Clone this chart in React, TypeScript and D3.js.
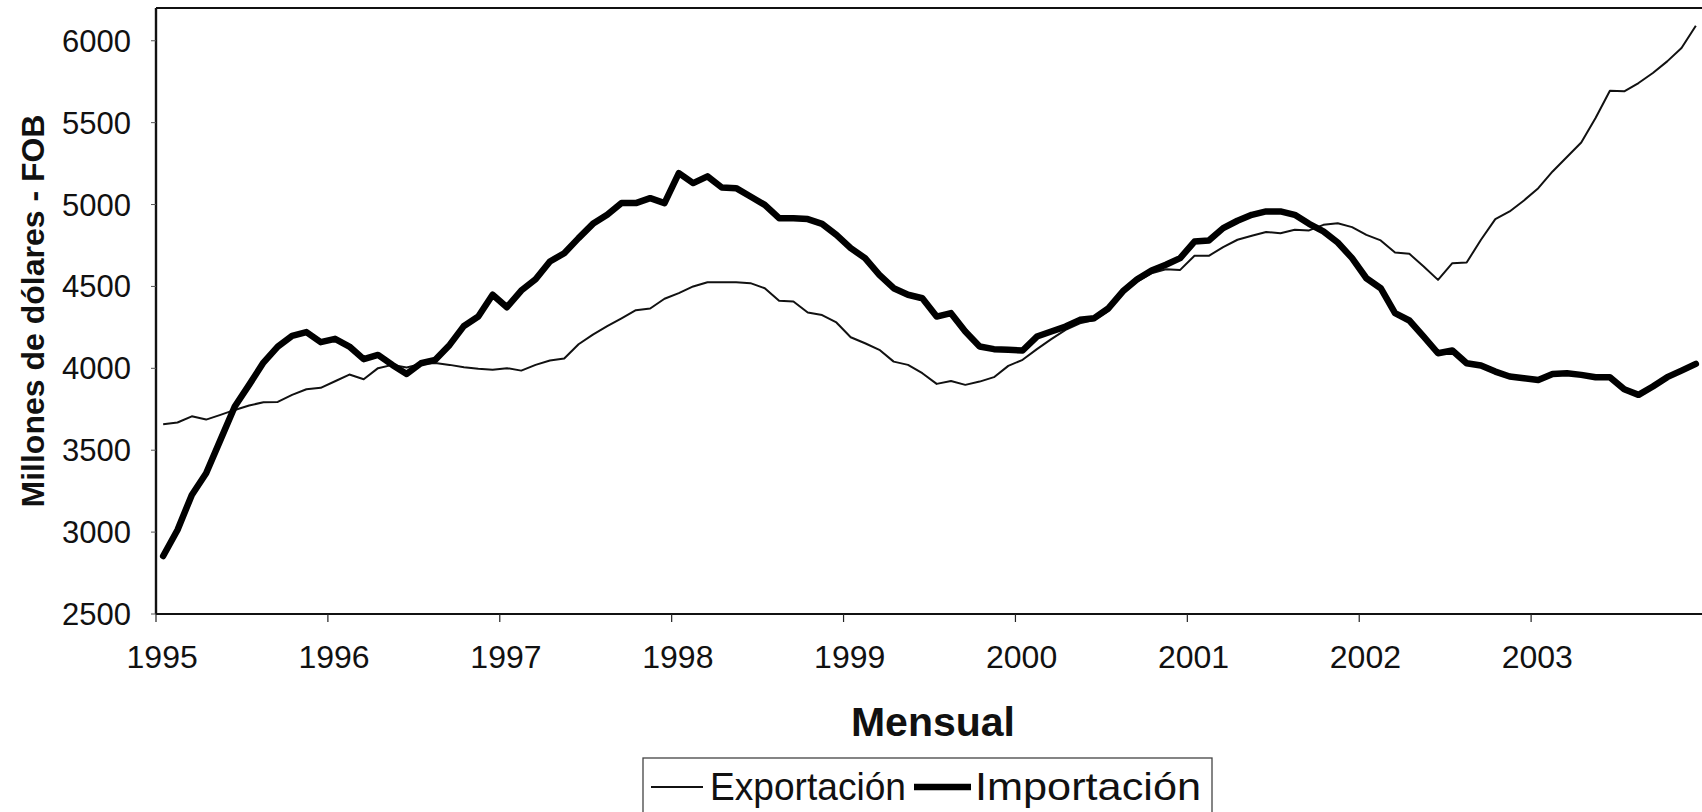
import React from 'react';
import * as d3 from 'd3';

const yearLabels = ['1995', '1996', '1997', '1998', '1999', '2000', '2001', '2002', '2003'];
const yTicks = [2500, 3000, 3500, 4000, 4500, 5000, 5500, 6000];

const exportacion = [
  3659, 3669, 3707, 3687, 3716, 3746, 3773, 3793, 3795, 3838, 3872, 3881,
  3921, 3962, 3933, 4001, 4021, 4005, 4027, 4033, 4021, 4007, 3997, 3991,
  4001, 3986, 4021, 4048, 4060, 4147, 4206, 4257, 4305, 4355, 4365, 4425,
  4459, 4500, 4526, 4526, 4526, 4520, 4489, 4412, 4408, 4341, 4325, 4280,
  4190, 4153, 4113, 4041, 4021, 3970, 3905, 3923, 3899, 3919, 3946, 4015,
  4052, 4117, 4178, 4235, 4275, 4295, 4350, 4465, 4530, 4580, 4605, 4601,
  4687, 4687, 4740, 4785, 4809, 4832, 4825, 4846, 4842, 4876, 4886, 4862,
  4815, 4781, 4707, 4699, 4622, 4540, 4642, 4646, 4785, 4911, 4958, 5025,
  5100, 5202, 5290, 5379, 5528, 5695, 5691, 5742, 5803, 5874, 5956, 6092,
];

const importacion = [
  2854, 3013, 3227, 3359, 3563, 3767, 3899, 4035, 4133, 4198, 4221, 4160,
  4180, 4133, 4056, 4082, 4021, 3966, 4031, 4052, 4143, 4259, 4316, 4449,
  4373, 4475, 4544, 4652, 4703, 4795, 4882, 4937, 5009, 5009, 5039, 5009,
  5192, 5131, 5172, 5104, 5100, 5049, 4998, 4917, 4917, 4911, 4882, 4815,
  4734, 4673, 4571, 4489, 4449, 4428, 4316, 4337, 4225, 4133, 4117, 4113,
  4109, 4194, 4225, 4255, 4296, 4306, 4367, 4470, 4544, 4597, 4632, 4673,
  4774, 4781, 4856, 4901, 4937, 4958, 4958, 4937, 4882, 4836, 4768, 4673,
  4550, 4489, 4337, 4292, 4194, 4092, 4109, 4031, 4017, 3980, 3950, 3940,
  3929, 3966, 3970, 3960, 3946, 3946, 3872, 3838, 3889, 3946, 3986, 4027,
];

const W = 1702;
const H = 812;
const plot = { left: 156, right: 1703, top: 8, bottom: 614 };
const FONT = 'Arial, "Liberation Sans", Helvetica, sans-serif';

export default function App() {
  const n = exportacion.length;
  const x = d3.scaleLinear().domain([-0.5, n - 0.5]).range([plot.left, plot.right]);
  const y = d3.scaleLinear().domain([2500, 6200]).range([plot.bottom, plot.top]);

  const line = d3
    .line<number>()
    .x((_, i) => x(i))
    .y((d) => y(d));

  const yearTickPos = yearLabels.map((_, k) => k * 12);

  // legend layout
  const legFont = 39;
  const legTop = 758;
  const legLeft = 643;
  const legRight = 1212;
  const legBase = 800;
  const legLineY = 787;

  return (
    <svg
      width={W}
      height={H}
      viewBox={`0 0 ${W} ${H}`}
      style={{ position: 'absolute', left: 0, top: 0, background: '#fff' }}
      fontFamily={FONT}
    >
      <rect x={0} y={0} width={W} height={H} fill="#fff" />

      {/* plot frame */}
      <line x1={plot.left} x2={plot.right} y1={plot.top} y2={plot.top} stroke="#111" strokeWidth={2.2} />
      <line x1={plot.left} x2={plot.left} y1={plot.top} y2={plot.bottom} stroke="#111" strokeWidth={2.4} />
      <line x1={plot.left} x2={plot.right} y1={plot.bottom} y2={plot.bottom} stroke="#111" strokeWidth={2.2} />

      {/* y ticks and labels */}
      {yTicks.map((t) => (
        <g key={t}>
          <line x1={plot.left - 5} x2={plot.left} y1={y(t)} y2={y(t)} stroke="#555" strokeWidth={1} />
          <text x={131} y={y(t) + 11} textAnchor="end" fontSize={31} fill="#111">
            {t}
          </text>
        </g>
      ))}

      {/* x ticks and labels */}
      {yearTickPos.map((m, k) => (
        <g key={k}>
          <line x1={x(m - 0.5)} x2={x(m - 0.5)} y1={plot.bottom} y2={plot.bottom + 8} stroke="#222" strokeWidth={1.2} />
          <text x={x(m) - 1} y={668} textAnchor="middle" fontSize={32} fill="#111">
            {yearLabels[k]}
          </text>
        </g>
      ))}

      {/* axis titles */}
      <text
        transform={`translate(44, 311) rotate(-90)`}
        textAnchor="middle"
        fontSize={32}
        fontWeight="bold"
        fill="#111"
      >
        Millones de dólares - FOB
      </text>
      <text x={933} y={736} textAnchor="middle" fontSize={41} fontWeight="bold" fill="#111">
        Mensual
      </text>

      {/* series */}
      <path d={line(exportacion) || ''} fill="none" stroke="#111" strokeWidth={2} strokeLinejoin="round" />
      <path
        d={line(importacion) || ''}
        fill="none"
        stroke="#000"
        strokeWidth={6.5}
        strokeLinejoin="round"
        strokeLinecap="round"
      />

      {/* legend */}
      <rect x={legLeft} y={legTop} width={legRight - legLeft} height={H - legTop + 10} fill="none" stroke="#444" strokeWidth={1.3} />
      <line x1={651} x2={703} y1={legLineY} y2={legLineY} stroke="#111" strokeWidth={2} />
      <text x={710} y={legBase} fontSize={legFont} fill="#111" textLength={196} lengthAdjust="spacingAndGlyphs">
        Exportación
      </text>
      <line x1={914} x2={971} y1={legLineY} y2={legLineY} stroke="#000" strokeWidth={6.5} />
      <text x={975} y={legBase} fontSize={legFont} fill="#111" textLength={226} lengthAdjust="spacingAndGlyphs">
        Importación
      </text>
    </svg>
  );
}
